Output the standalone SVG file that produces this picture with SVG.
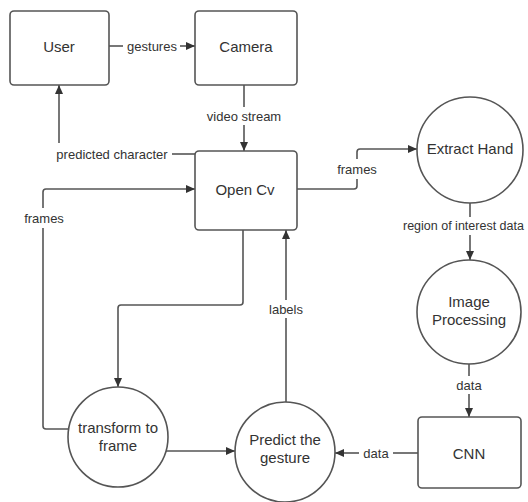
<svg xmlns="http://www.w3.org/2000/svg" width="528" height="502" viewBox="0 0 528 502">
<style>
.n{fill:#fff;stroke:#555;stroke-width:1.6}
.c{fill:none;stroke:#555;stroke-width:1.6}
.t{font-family:"Liberation Sans",Arial,sans-serif;font-size:15px;fill:#333;text-anchor:middle;dominant-baseline:central}
.l{font-family:"Liberation Sans",Arial,sans-serif;font-size:13px;fill:#333;text-anchor:middle;dominant-baseline:central}
</style>
<defs>
<marker id="a" markerWidth="10" markerHeight="10" refX="9" refY="5" orient="auto" markerUnits="userSpaceOnUse">
<path d="M0,1 L9,5 L0,9 Z" fill="#333"/>
</marker>
</defs>
<rect width="528" height="502" fill="#fff"/>
<g id="connectors">
<path class="c" d="M109,46 H123"/>
<text class="l" x="152" y="46">gestures</text>
<path class="c" d="M180,46 H195" marker-end="url(#a)"/>
<path class="c" d="M244,85 V107"/>
<text class="l" x="244" y="116">video stream</text>
<path class="c" d="M244,125 V151" marker-end="url(#a)"/>
<path class="c" d="M195,154 H172"/>
<text class="l" x="112" y="154">predicted character</text>
<path class="c" d="M59,143 V85" marker-end="url(#a)"/>
<path class="c" d="M69,429 H46 Q43,429 43,426 V228"/>
<text class="l" x="44" y="218">frames</text>
<path class="c" d="M43,208 V192 Q43,189 46,189 H195" marker-end="url(#a)"/>
<path class="c" d="M243,230 V302 Q243,305 240,305 H121 Q118,305 118,308 V387" marker-end="url(#a)"/>
<path class="c" d="M166,451 H235" marker-end="url(#a)"/>
<path class="c" d="M286,402 V318"/>
<text class="l" x="286" y="309">labels</text>
<path class="c" d="M286,300 V230" marker-end="url(#a)"/>
<path class="c" d="M297,189 H354 Q357,189 357,186 V179"/>
<text class="l" x="357" y="169">frames</text>
<path class="c" d="M357,159 V152 Q357,149 360,149 H417" marker-end="url(#a)"/>
<path class="c" d="M470,203 V217"/>
<text class="l" x="403" y="226" style="text-anchor:start;font-size:12.5px">region of interest data</text>
<path class="c" d="M470,235 V260" marker-end="url(#a)"/>
<path class="c" d="M469,364 V376"/>
<text class="l" x="469" y="385">data</text>
<path class="c" d="M469,394 V417" marker-end="url(#a)"/>
<path class="c" d="M418,453 H393"/>
<text class="l" x="376" y="453">data</text>
<path class="c" d="M359,453 H335" marker-end="url(#a)"/>
</g>
<g id="user"><rect class="n" x="10" y="11" width="99" height="74" rx="4"/><text class="t" x="59" y="46">User</text></g>
<g id="camera"><rect class="n" x="195" y="11" width="102" height="74" rx="4"/><text class="t" x="246" y="46">Camera</text></g>
<g id="opencv"><rect class="n" x="195" y="151" width="102" height="79" rx="4"/><text class="t" x="245" y="189">Open Cv</text></g>
<g id="extract"><circle class="n" cx="470" cy="150" r="53"/><text class="t" x="470" y="148">Extract Hand</text></g>
<g id="imageproc"><circle class="n" cx="469" cy="312" r="52"/><text class="t" x="469" y="301">Image</text><text class="t" x="469" y="319">Processing</text></g>
<g id="cnn"><rect class="n" x="418" y="417" width="103" height="71" rx="4"/><text class="t" x="469" y="453">CNN</text></g>
<g id="transform"><circle class="n" cx="118" cy="437" r="50"/><text class="t" x="118" y="427">transform to</text><text class="t" x="118" y="445">frame</text></g>
<g id="predict"><circle class="n" cx="285" cy="452" r="50"/><text class="t" x="285" y="439">Predict the</text><text class="t" x="285" y="457">gesture</text></g>
</svg>
